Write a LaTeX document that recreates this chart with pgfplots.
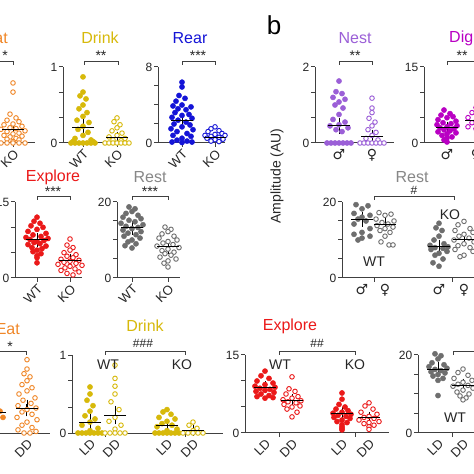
\documentclass[border=0pt]{standalone}
\usepackage{pgfplots}
\pgfplotsset{compat=1.18}
\usepackage{fontspec}
\setmainfont{Liberation Sans}
\newfontfamily\sym{DejaVu Sans}
\newcommand\fs[1]{\fontsize{#1}{#1}\selectfont}
\definecolor{ceat}{RGB}{240,135,40}
\definecolor{cdrink}{RGB}{215,185,10}
\definecolor{crear}{RGB}{20,20,215}
\definecolor{cnest}{RGB}{155,95,215}
\definecolor{cdig}{RGB}{185,0,195}
\definecolor{cexp}{RGB}{235,25,25}
\definecolor{crest}{RGB}{110,110,110}
\definecolor{trest}{RGB}{135,135,135}
\pgfplotsset{
 panel/.style={scale only axis, clip=false, anchor=south west,
   axis x line*=bottom, axis y line*=left,
   axis line style={-, line width=1pt, draw=black!75},
   tick style={line width=1pt, draw=black!75},
   tick align=outside, major tick length=4pt,
   xmin=0, ymin=0,
   yticklabel style={font=\fs{12}, inner sep=1.5pt, text=black!85},
   /pgf/number format/assume math mode=true},
 rotlab/.style={xticklabel style={font=\fs{13}, rotate=45, anchor=north east, inner sep=1pt, text=black!85}},
 sexlab/.style={xticklabel style={font=\sym\fs{14}, anchor=north, inner sep=2pt, text=black!85}, xtick style={draw=none}},
 fdot/.style={only marks, mark=*, mark size=2.6pt, mark options={draw=#1, fill=#1}},
 odot/.style={only marks, mark=*, mark size=2.3pt, mark options={draw=#1, fill=white, line width=0.9pt}},
 mbar/.style={only marks, mark=-, mark size=11pt, mark options={black, line width=1pt},
   error bars/.cd, y dir=both, y explicit, error mark=-, error bar style={line width=1pt, black},
   error mark options={mark size=4.5pt, line width=1pt, black}},
}
\begin{document}
\begin{tikzpicture}
\useasboundingbox (0,0) rectangle (474pt,474pt);
\clip (0,0) rectangle (474pt,474pt);
\fill[white] (0,0) rectangle (474pt,474pt);
% ---------- Row 1 a : Eat (partial)
\begin{axis}[panel, rotlab, at={(-57pt,331pt)}, width=92pt, height=76pt, xmax=92, ymax=1,
  xtick={26,70}, xticklabels={WT,KO}, ytick={0,0.3333,0.6667,1}, yticklabels={0,,,1}]
\addplot[odot=ceat] table[row sep=\\, x expr=\thisrow{d}+70, y=v]{d v\\
0 0.79\\0 0.67\\-3 0.38\\3 0.33\\-6 0.30\\6 0.28\\0 0.25\\-9 0.24\\9 0.22\\-3 0.20\\3 0.19\\-12 0.18\\12 0.16\\-6 0.15\\6 0.13\\0 0.12\\-9 0.10\\9 0.09\\-3 0.08\\3 0.06\\-6 0.05\\6 0.04\\0 0.02\\-12 0\\-6 0\\0 0\\6 0\\12 0\\};
\addplot[mbar] coordinates {(70,0.18) +- (0,0.03)};
\end{axis}
% ---------- Row 1 a : Drink
\begin{axis}[panel, rotlab, at={(63pt,331pt)}, width=66pt, height=76pt, xmax=66, ymax=1,
  xtick={20,54}, xticklabels={WT,KO}, ytick={0,0.3333,0.6667,1}, yticklabels={0,,,1}]
\addplot[fdot=cdrink] table[row sep=\\, x expr=\thisrow{d}+20, y=v]{d v\\
0 0.87\\0 0.67\\-3 0.62\\3 0.58\\0 0.50\\-4 0.45\\4 0.40\\0 0.35\\-6 0.30\\6 0.27\\0 0.22\\-5 0.18\\5 0.14\\0 0.10\\-8 0.06\\8 0.04\\-12 0\\-8 0\\-4 0\\0 0\\4 0\\8 0\\12 0\\-10 0.02\\10 0.02\\};
\addplot[odot=cdrink] table[row sep=\\, x expr=\thisrow{d}+54, y=v]{d v\\
0 0.33\\-3 0.28\\3 0.24\\0 0.20\\-5 0.16\\5 0.13\\0 0.10\\-8 0.08\\8 0.06\\-4 0.04\\4 0.03\\-12 0\\-8 0\\-4 0\\0 0\\4 0\\8 0\\12 0\\};
\addplot[mbar] coordinates {(20,0.21) +- (0,0.04) (54,0.07) +- (0,0.02)};
\end{axis}
% ---------- Row 1 a : Rear
\begin{axis}[panel, rotlab, at={(158pt,331pt)}, width=67pt, height=76pt, xmax=67, ymax=8,
  xtick={24,57}, xticklabels={WT,KO}, ytick={0,2,4,6,8}, yticklabels={0,,,,8}]
\addplot[fdot=crear] table[row sep=\\, x expr=\thisrow{d}+24, y=v]{d v\\
0 6.4\\0 5.9\\-3 5.0\\3 4.7\\-6 4.4\\0 4.0\\-9 3.9\\9 3.8\\-4 3.6\\4 3.5\\-7 3.2\\7 3.0\\0 2.9\\-10 2.7\\10 2.6\\-4 2.4\\4 2.2\\-8 2.0\\8 1.9\\0 1.7\\-11 1.5\\11 1.4\\-5 1.2\\5 1.0\\-9 0.8\\9 0.7\\0 0.5\\-5 0.3\\5 0.2\\-10 0.1\\10 0.1\\0 0.05\\};
\addplot[odot=crear] table[row sep=\\, x expr=\thisrow{d}+57, y=v]{d v\\
0 1.7\\-4 1.5\\4 1.3\\-7 1.2\\7 1.0\\0 0.9\\-10 0.8\\10 0.8\\-4 0.7\\4 0.6\\-8 0.5\\8 0.4\\0 0.35\\-4 0.2\\4 0.15\\};
\addplot[mbar] coordinates {(24,2.4) +- (0,0.3) (57,0.63) +- (0,0.1)};
\end{axis}
% ---------- Row 1 b : Nest
\begin{axis}[panel, sexlab, at={(315pt,331pt)}, width=79pt, height=76pt, xmax=79, ymax=2,
  xtick={24,57}, xticklabels={♂,♀}, ytick={0,0.6667,1.3333,2}, yticklabels={0,,,2}]
\addplot[fdot=cnest] table[row sep=\\, x expr=\thisrow{d}+24, y=v]{d v\\
0 1.63\\-3 1.35\\3 1.30\\-6 1.20\\6 1.15\\0 1.08\\-4 1.0\\4 0.92\\0 0.75\\-6 0.62\\6 0.55\\0 0.48\\-9 0.45\\9 0.40\\-3 0.35\\3 0.30\\-12 0\\-8 0\\-4 0\\0 0\\4 0\\8 0\\12 0\\};
\addplot[odot=cnest] table[row sep=\\, x expr=\thisrow{d}+57, y=v]{d v\\
0 1.18\\0 0.92\\0 0.80\\-3 0.65\\3 0.55\\0 0.45\\-4 0.35\\4 0.28\\0 0.20\\-6 0.12\\6 0.08\\-12 0\\-8 0\\-4 0\\0 0\\4 0\\8 0\\12 0\\};
\addplot[mbar] coordinates {(24,0.45) +- (0,0.1) (57,0.16) +- (0,0.07)};
\end{axis}
% ---------- Row 1 b : Dig
\begin{axis}[panel, sexlab, at={(424pt,331pt)}, width=79pt, height=76pt, xmax=79, ymax=15,
  xtick={23,52}, xticklabels={♂,♀}, ytick={0,5,10,15}, yticklabels={0,,,15}]
\addplot[fdot=cdig] table[row sep=\\, x expr=\thisrow{d}+23, y=v]{d v\\
-3 6.5\\3 5.8\\-6 5.5\\6 5.2\\0 5.0\\-9 4.6\\9 4.3\\-4 4.0\\4 3.8\\-10 3.6\\10 3.4\\0 3.2\\-7 3.0\\7 2.8\\-3 2.6\\3 2.4\\-9 2.2\\9 2.0\\0 1.8\\-5 1.5\\5 1.2\\0 1.0\\-3 0.6\\0 0.2\\};
\addplot[odot=cdig] table[row sep=\\, x expr=\thisrow{d}+52, y=v]{d v\\
0 7.0\\-4 6.0\\4 5.5\\-8 5.0\\8 4.6\\0 4.3\\-4 4.0\\4 3.6\\-8 3.2\\0 2.8\\};
\addplot[mbar] coordinates {(23,3.0) +- (0,0.3) (52,4.5) +- (0,0.4)};
\end{axis}
% ---------- Row 2 a : Explore
\begin{axis}[panel, rotlab, at={(15pt,196pt)}, width=67pt, height=76pt, xmax=67, ymax=15,
  xtick={22,55}, xticklabels={WT,KO}, ytick={0,5,10,15}, yticklabels={0,,,15}]
\addplot[fdot=cexp] table[row sep=\\, x expr=\thisrow{d}+22, y=v]{d v\\
0 12.0\\-3 11.2\\3 10.8\\-6 10.3\\6 10.0\\0 9.6\\-9 9.2\\9 8.8\\-4 8.5\\4 8.2\\-11 8.0\\11 7.8\\-7 7.6\\7 7.4\\0 7.2\\-3 7.0\\3 6.8\\-9 6.6\\9 6.3\\-5 6.0\\5 5.8\\0 5.5\\-4 5.2\\4 4.8\\0 4.4\\0 4.0\\0 3.0\\};
\addplot[odot=cexp] table[row sep=\\, x expr=\thisrow{d}+55, y=v]{d v\\
0 7.7\\-3 6.5\\3 6.0\\0 5.5\\-6 5.0\\6 4.6\\-3 4.3\\3 4.0\\-9 3.7\\9 3.5\\0 3.3\\-6 3.1\\6 2.9\\-12 2.7\\12 2.5\\0 2.3\\-5 2.0\\5 1.8\\-9 1.5\\9 1.2\\-3 0.9\\3 0.6\\};
\addplot[mbar] coordinates {(22,7.5) +- (0,0.4) (55,3.5) +- (0,0.4)};
\end{axis}
% ---------- Row 2 a : Rest
\begin{axis}[panel, rotlab, at={(117pt,196pt)}, width=63pt, height=76pt, xmax=63, ymax=20,
  xtick={15,51}, xticklabels={WT,KO}, ytick={0,5,10,15,20}, yticklabels={0,,,,20}]
\addplot[fdot=crest] table[row sep=\\, x expr=\thisrow{d}+15, y=v]{d v\\
-3 18.7\\3 18.2\\0 17.5\\-6 17.0\\6 16.5\\-9 16.0\\9 15.6\\-3 15.2\\3 14.8\\-11 14.4\\11 14.0\\-6 13.6\\6 13.3\\0 13.0\\-9 12.6\\9 12.2\\-4 11.8\\4 11.4\\-8 11.0\\8 10.5\\0 10.0\\-4 9.5\\4 9.0\\-7 8.5\\0 7.9\\};
\addplot[odot=crest] table[row sep=\\, x expr=\thisrow{d}+51, y=v]{d v\\
-3 13.4\\3 12.8\\0 12.2\\-6 11.6\\6 11.0\\-9 10.5\\9 10.0\\0 9.6\\-5 9.2\\5 8.8\\-11 8.4\\11 8.0\\0 7.6\\-6 7.2\\6 6.8\\-3 6.4\\3 6.0\\-8 5.5\\8 5.0\\0 4.5\\-4 3.9\\0 2.9\\};
\addplot[mbar] coordinates {(15,13.2) +- (0,0.6) (51,8.2) +- (0,0.6)};
\end{axis}
% ---------- Row 2 b : Rest by sex
\begin{axis}[panel, sexlab, at={(342pt,196pt)}, width=150pt, height=76pt, xmax=150, ymax=20,
  xtick={20,43,97,122}, xticklabels={♂,♀,♂,♀}, ytick={0,5,10,15,20}, yticklabels={0,,,,20}]
\draw[line width=1pt, black!75] (axis cs:32,0) -- ++(0,-4pt) (axis cs:110,0) -- ++(0,-4pt);
\addplot[fdot=crest] table[row sep=\\, x expr=\thisrow{d}+20, y=v]{d v\\
-6 19.3\\6 19.0\\0 18.2\\-8 17.0\\8 16.5\\0 16.0\\-4 15.5\\4 15.0\\-8 14.2\\8 13.0\\0 12.0\\-8 11.5\\8 11.0\\0 10.5\\-4 10.0\\};
\addplot[odot=crest] table[row sep=\\, x expr=\thisrow{d}+43, y=v]{d v\\
-6 17.2\\6 16.8\\0 16.5\\-9 15.5\\9 15.0\\-3 14.6\\3 14.2\\-8 13.8\\8 13.4\\0 13.0\\-5 12.5\\5 12.0\\0 11.0\\-4 9.5\\4 8.7\\8 8.7\\};
\addplot[fdot=crest] table[row sep=\\, x expr=\thisrow{d}+97, y=v]{d v\\
0 14.4\\-3 13.2\\3 12.5\\0 11.0\\-5 10.0\\5 9.0\\-9 8.6\\9 8.2\\-4 8.0\\4 7.8\\-8 7.5\\8 7.0\\0 6.5\\-4 6.0\\4 5.0\\-6 4.0\\0 3.1\\};
\addplot[odot=crest] table[row sep=\\, x expr=\thisrow{d}+122, y=v]{d v\\
0 14.9\\-6 14.0\\6 13.0\\-9 12.5\\9 12.0\\0 11.5\\-5 11.0\\5 10.5\\-10 10.0\\10 9.5\\0 9.0\\-6 8.5\\6 8.0\\-9 7.5\\9 7.0\\0 6.0\\-4 5.6\\};
\addplot[mbar] coordinates {(20,15.5) +- (0,0.8) (43,14.1) +- (0,0.6) (97,8.2) +- (0,0.7) (122,10.1) +- (0,0.6)};
\end{axis}
% ---------- Row 3 : Eat (partial)
\begin{axis}[panel, rotlab, at={(-100pt,41pt)}, width=150pt, height=78pt, xmax=150, ymax=1,
  xtick={93,127}, xticklabels={LD,DD}, xtick style={draw=none}, ytick={0,0.3333,0.6667,1}, yticklabels={0,,,1}]
\addplot[fdot=ceat] table[row sep=\\, x expr=\thisrow{d}+95, y=v]{d v\\
0 0.35\\-5 0.30\\5 0.28\\0 0.25\\-8 0.22\\8 0.20\\0 0.15\\};
\addplot[odot=ceat] table[row sep=\\, x expr=\thisrow{d}+127, y=v]{d v\\
0 0.94\\0 0.82\\-3 0.76\\3 0.72\\0 0.67\\-5 0.62\\5 0.58\\0 0.54\\-8 0.50\\8 0.45\\-4 0.42\\4 0.38\\-9 0.35\\9 0.32\\0 0.30\\-5 0.27\\5 0.24\\-10 0.20\\10 0.17\\0 0.14\\-5 0.10\\5 0.07\\-9 0.04\\9 0.02\\-3 0\\3 0\\};
\addplot[mbar] coordinates {(95,0.26) +- (0,0.03) (127,0.32) +- (0,0.05)};
\end{axis}
% ---------- Row 3 : Drink
\begin{axis}[panel, rotlab, at={(72pt,41pt)}, width=151pt, height=78pt, xmax=151, ymax=1,
  xtick={18,43,95,121}, xticklabels={LD,DD,LD,DD}, xtick style={draw=none}, ytick={0,0.3333,0.6667,1}, yticklabels={0,,,1}]
\draw[line width=1pt, black!75] (axis cs:33,0) -- ++(0,-4pt) (axis cs:113,0) -- ++(0,-4pt);
\addplot[fdot=cdrink] table[row sep=\\, x expr=\thisrow{d}+18, y=v]{d v\\
0 0.59\\0 0.50\\-3 0.42\\3 0.35\\0 0.28\\-5 0.22\\5 0.18\\0 0.14\\-8 0.10\\8 0.06\\0 0.03\\-12 0\\-8 0\\-4 0\\0 0\\4 0\\8 0\\12 0\\};
\addplot[odot=cdrink] table[row sep=\\, x expr=\thisrow{d}+43, y=v]{d v\\
0 0.87\\0 0.70\\0 0.60\\0 0.50\\-4 0.40\\4 0.30\\0 0.20\\-6 0.15\\6 0.10\\0 0.05\\-10 0\\-5 0\\0 0\\5 0\\10 0\\};
\addplot[fdot=cdrink] table[row sep=\\, x expr=\thisrow{d}+95, y=v]{d v\\
0 0.30\\-4 0.27\\4 0.24\\-8 0.20\\8 0.18\\0 0.15\\-5 0.12\\5 0.10\\-10 0.08\\10 0.05\\0 0.03\\-12 0\\-8 0\\-4 0\\0 0\\4 0\\8 0\\12 0\\};
\addplot[odot=cdrink] table[row sep=\\, x expr=\thisrow{d}+121, y=v]{d v\\
0 0.14\\-4 0.10\\4 0.06\\0 0.03\\-10 0\\-5 0\\0 0\\5 0\\10 0\\};
\addplot[mbar] coordinates {(18,0.14) +- (0,0.04) (43,0.23) +- (0,0.06) (95,0.09) +- (0,0.02) (121,0.03) +- (0,0.01)};
\end{axis}
% ---------- Row 3 : Explore
\begin{axis}[panel, rotlab, at={(245pt,41pt)}, width=144pt, height=78pt, xmax=144, ymax=15,
  xtick={20,47,97,124}, xticklabels={LD,DD,LD,DD}, xtick style={draw=none}, ytick={0,5,10,15}, yticklabels={0,,,15}]
\draw[line width=1pt, black!75] (axis cs:34,0) -- ++(0,-4pt) (axis cs:110,0) -- ++(0,-4pt);
\addplot[fdot=cexp] table[row sep=\\, x expr=\thisrow{d}+20, y=v]{d v\\
0 11.9\\-4 11.0\\4 10.5\\-8 10.0\\8 9.6\\0 9.3\\-10 9.0\\10 8.8\\-5 8.6\\5 8.4\\0 8.2\\-9 8.0\\9 7.8\\-4 7.5\\4 7.2\\-8 7.0\\8 6.8\\0 6.7\\};
\addplot[odot=cexp] table[row sep=\\, x expr=\thisrow{d}+47, y=v]{d v\\
0 10.8\\-3 8.5\\3 8.0\\-6 7.5\\6 7.0\\0 6.7\\-9 6.4\\9 6.2\\-4 6.0\\4 5.8\\-8 5.5\\8 5.2\\0 5.0\\-5 4.6\\5 4.0\\0 3.1\\};
\addplot[fdot=cexp] table[row sep=\\, x expr=\thisrow{d}+97, y=v]{d v\\
0 7.7\\0 6.5\\-3 5.5\\3 5.0\\-6 4.6\\6 4.3\\0 4.0\\-9 3.8\\9 3.6\\-4 3.4\\4 3.2\\-8 3.0\\8 2.8\\0 2.5\\-5 2.2\\5 2.0\\0 1.6\\0 1.2\\0 0.9\\0 0.6\\};
\addplot[odot=cexp] table[row sep=\\, x expr=\thisrow{d}+124, y=v]{d v\\
0 5.8\\-4 5.2\\4 4.6\\-8 4.0\\8 3.6\\0 3.2\\-5 3.0\\5 2.8\\-10 2.5\\10 2.2\\0 2.0\\-5 1.8\\5 1.5\\0 1.2\\0 0.7\\};
\addplot[mbar] coordinates {(20,8.8) +- (0,0.3) (47,6.2) +- (0,0.4) (97,3.8) +- (0,0.3) (124,2.9) +- (0,0.3)};
\end{axis}
% ---------- Row 3 : Rest (partial)
\begin{axis}[panel, rotlab, at={(418pt,41pt)}, width=150pt, height=78pt, xmax=150, ymax=20,
  xtick={20,45}, xticklabels={LD,DD}, xtick style={draw=none}, ytick={0,5,10,15,20}, yticklabels={0,,,,20}]
\draw[line width=1pt, black!75] (axis cs:34,0) -- ++(0,-4pt);
\addplot[fdot=crest] table[row sep=\\, x expr=\thisrow{d}+20, y=v]{d v\\
-3 20.3\\3 19.8\\0 19.0\\-6 18.0\\6 17.5\\-9 17.0\\9 16.6\\-3 16.3\\3 16.0\\-7 15.7\\7 15.4\\0 15.0\\-5 14.6\\5 14.0\\0 13.5\\0 9.6\\};
\addplot[odot=crest] table[row sep=\\, x expr=\thisrow{d}+45, y=v]{d v\\
0 16.4\\-5 15.5\\5 14.8\\-9 14.0\\9 13.5\\0 13.0\\-5 12.5\\5 12.2\\-10 12.0\\10 11.5\\0 11.0\\-6 10.5\\6 10.0\\-3 9.5\\3 9.0\\0 8.5\\};
\addplot[mbar] coordinates {(20,16.4) +- (0,0.6) (45,12.3) +- (0,0.5)};
\end{axis}
% ---------- titles
\begin{scope}[every node/.style={font=\fs{16}, inner sep=0pt}]
\node[anchor=east, text=ceat] at (8pt,436pt) {Eat};
\node[text=cdrink] at (100pt,436pt) {Drink};
\node[text=crear] at (190pt,436pt) {Rear};
\node[text=cnest] at (355pt,436pt) {Nest};
\node[anchor=west, text=cdig] at (449pt,436pt) {Dig};
\node[text=cexp] at (53pt,297pt) {Explore};
\node[text=trest] at (150pt,297pt) {Rest};
\node[text=trest] at (412pt,297pt) {Rest};
\node[anchor=east, text=ceat] at (20pt,145pt) {Eat};
\node[text=cdrink] at (145pt,148pt) {Drink};
\node[text=cexp] at (290pt,148pt) {Explore};
\end{scope}
% ---------- significance brackets
\begin{scope}[line width=0.9pt, black!75]
\draw (-20pt,413pt) -- (13pt,413pt) -- (13pt,409pt);
\draw (84pt,409pt) -- (84pt,413pt) -- (118pt,413pt) -- (118pt,409pt);
\draw (182pt,409pt) -- (182pt,413pt) -- (215pt,413pt) -- (215pt,409pt);
\draw (339pt,409pt) -- (339pt,413pt) -- (372pt,413pt) -- (372pt,409pt);
\draw (447pt,409pt) -- (447pt,413pt) -- (480pt,413pt);
\draw (37pt,274pt) -- (37pt,278pt) -- (70pt,278pt) -- (70pt,274pt);
\draw (132pt,274pt) -- (132pt,278pt) -- (168pt,278pt) -- (168pt,274pt);
\draw (374pt,274pt) -- (374pt,278pt) -- (454pt,278pt) -- (454pt,274pt);
\draw (-20pt,123pt) -- (26pt,123pt) -- (26pt,119pt);
\draw (105pt,119pt) -- (105pt,123pt) -- (185pt,123pt) -- (185pt,119pt);
\draw (279pt,119pt) -- (279pt,123pt) -- (355pt,123pt) -- (355pt,119pt);
\draw (453pt,119pt) -- (453pt,123pt) -- (490pt,123pt);
\end{scope}
\begin{scope}[every node/.style={font=\fs{14}, inner sep=0pt, text=black!85}]
\node at (5pt,418pt) {*};
\node at (101pt,418pt) {**};
\node at (198pt,418pt) {***};
\node at (355pt,418pt) {**};
\node at (462pt,418pt) {**};
\node at (53pt,282pt) {***};
\node at (150pt,282pt) {***};
\node at (10pt,127pt) {*};
\end{scope}
\begin{scope}[every node/.style={font=\fs{12}, inner sep=0pt, text=black!85}]
\node at (414pt,284pt) {\#};
\node at (143pt,131pt) {\#\#\#};
\node at (317pt,131pt) {\#\#};
\end{scope}
% ---------- group labels
\begin{scope}[every node/.style={font=\fs{14}, inner sep=0pt, text=black!85}]
\node at (374pt,212pt) {WT};
\node at (450pt,259pt) {KO};
\node at (108pt,109pt) {WT};
\node at (182pt,109pt) {KO};
\node at (280pt,109pt) {WT};
\node at (355pt,109pt) {KO};
\node at (455pt,56pt) {WT};
\end{scope}
\node[font=\fs{26}, inner sep=0pt] at (274pt,449pt) {b};
\node[font=\fs{14}, rotate=90, inner sep=0pt, text=black!85] at (277pt,298pt) {Amplitude (AU)};
\end{tikzpicture}
\end{document}
